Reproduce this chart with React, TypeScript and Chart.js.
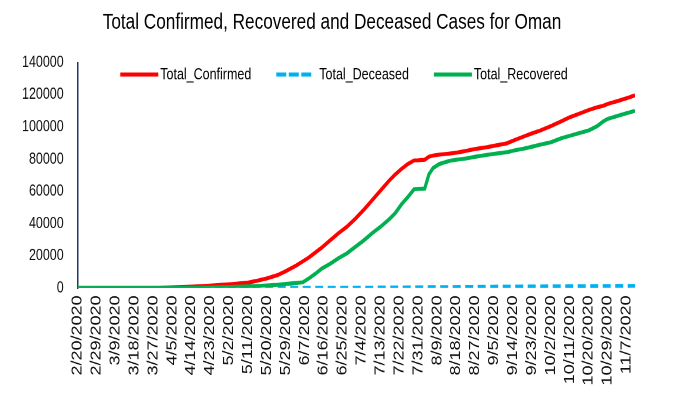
import React, { useEffect, useRef } from 'react';
import { Chart, registerables } from 'chart.js';

Chart.register(...registerables);

const chartTitle = 'Total Confirmed, Recovered and Deceased Cases for Oman';
const seriesNames = ['Total_Confirmed', 'Total_Deceased', 'Total_Recovered'];
const seriesColors = ['#FF0000', '#00B0F0', '#00B050'];
const originDate = '2/20/2020';

const tickLabels = [
  '2/20/2020', '2/29/2020', '3/9/2020', '3/18/2020', '3/27/2020', '4/5/2020', '4/14/2020', '4/23/2020',
  '5/2/2020', '5/11/2020', '5/20/2020', '5/29/2020', '6/7/2020', '6/16/2020', '6/25/2020', '7/4/2020',
  '7/13/2020', '7/22/2020', '7/31/2020', '8/9/2020', '8/18/2020', '8/27/2020', '9/5/2020', '9/14/2020',
  '9/23/2020', '10/2/2020', '10/11/2020', '10/20/2020', '10/29/2020', '11/7/2020',
];
const lastDate = '11/11/2020';

const sampleDates = [
  '2/20/2020', '3/27/2020', '4/5/2020', '4/14/2020', '4/23/2020', '5/2/2020', '5/11/2020', '5/16/2020',
  '5/20/2020', '5/25/2020', '5/29/2020', '6/3/2020', '6/6/2020', '6/9/2020', '6/12/2020', '6/15/2020',
  '6/19/2020', '6/23/2020', '6/27/2020', '7/1/2020', '7/5/2020', '7/9/2020', '7/13/2020', '7/17/2020',
  '7/20/2020', '7/23/2020', '7/26/2020', '7/29/2020', '7/31/2020', '8/3/2020', '8/5/2020', '8/7/2020',
  '8/10/2020', '8/15/2020', '8/19/2020', '8/23/2020', '8/27/2020', '9/1/2020', '9/5/2020', '9/11/2020',
  '9/15/2020', '9/19/2020', '9/23/2020', '9/27/2020', '10/2/2020', '10/7/2020', '10/11/2020', '10/15/2020',
  '10/20/2020', '10/24/2020', '10/27/2020', '10/29/2020', '11/3/2020', '11/7/2020', '11/11/2020',
];

const confirmedValues = [
  0, 150, 400, 800, 1500, 2300, 3300, 4700,
  6000, 8000, 10500, 14000, 16500, 19000, 22000, 25000,
  29500, 34000, 38000, 43000, 48500, 54500, 60500, 66500,
  70500, 74000, 77000, 79200, 79300, 79600, 81500, 82200,
  82800, 83500, 84200, 85200, 86300, 87300, 88300, 89800,
  92000, 94000, 96000, 97800, 100500, 103500, 106000, 108000,
  110500, 112200, 113200, 114300, 116200, 117800, 119700,
];

const recoveredValues = [
  0, 0, 0, 100, 300, 600, 1000, 1300,
  1600, 2000, 2500, 3100, 3500, 6000, 8800, 12000,
  15000, 18500, 21500, 25500, 29500, 34000, 38000, 42500,
  46500, 52000, 56500, 61400, 61500, 61700, 70500, 74500,
  77000, 79000, 79800, 80500, 81500, 82500, 83300, 84300,
  85500, 86500, 87700, 89000, 90500, 93000, 94500, 96000,
  97800, 100500, 103500, 105000, 107000, 108500, 110000,
];

const deceasedDates = [
  '2/20/2020', '3/31/2020', '5/2/2020', '5/29/2020', '6/19/2020', '7/4/2020', '7/22/2020',
  '8/3/2020', '8/23/2020', '9/7/2020', '9/23/2020', '10/11/2020', '10/27/2020', '11/11/2020',
];
const deceasedValues = [0, 1, 12, 45, 110, 210, 340, 450, 600, 750, 900, 1050, 1200, 1300];

function dayIndex(label: string): number {
  const [m, d, y] = label.split('/').map(Number);
  const [om, od, oy] = originDate.split('/').map(Number);
  return Math.round((Date.UTC(y, m - 1, d) - Date.UTC(oy, om - 1, od)) / 86400000);
}

function toPoints(dates: string[], values: number[]) {
  return dates.map((d, i) => ({ x: dayIndex(d), y: values[i] }));
}

const FONT = "'Liberation Sans', Arial, sans-serif";
const STRETCH = 1.25;
const W = 684;
const H = 395;

const titleAndLegend = {
  id: 'titleAndLegend',
  afterDraw(chart: any) {
    const ctx = chart.ctx;
    const area = chart.chartArea;
    ctx.save();
    // title
    ctx.font = `17.2px ${FONT}`;
    ctx.textBaseline = 'middle';
    ctx.textAlign = 'center';
    ctx.fillStyle = '#000';
    ctx.fillText(chartTitle, chart.width / 2 - 10, 18.5);

    // legend inside the plot area
    const y = area.top + 9.6;
    ctx.font = `12.5px ${FONT}`;
    ctx.textAlign = 'left';
    const items = seriesNames.map((name, i) => ({
      name,
      color: seriesColors[i],
      dashed: i === 1,
      sample: i === 1 ? 35 : 38,
      gap: i === 1 ? 8 : 2,
      textW: ctx.measureText(name).width,
    }));
    const spacing = 25;
    const total = items.reduce((s, it) => s + it.sample + it.gap + it.textW, 0) + spacing * (items.length - 1);
    let x = (chart.width - total) / 2 + 2;
    items.forEach((it) => {
      ctx.strokeStyle = it.color;
      ctx.lineWidth = 3.2;
      ctx.lineCap = 'butt';
      ctx.setLineDash(it.dashed ? [10, 2.5] : []);
      ctx.beginPath();
      ctx.moveTo(x, y);
      ctx.lineTo(x + it.sample, y);
      ctx.stroke();
      ctx.setLineDash([]);
      ctx.fillStyle = '#000';
      ctx.fillText(it.name, x + it.sample + it.gap, y + 0.5);
      x += it.sample + it.gap + it.textW + spacing;
    });
    ctx.restore();
  },
};

export default function App() {
  const canvasRef = useRef<HTMLCanvasElement | null>(null);

  useEffect(() => {
    document.body.style.margin = '0';
    const canvas = canvasRef.current;
    if (!canvas) return;
    const chart = new Chart(canvas, {
      type: 'line',
      data: {
        datasets: [
          {
            label: seriesNames[0],
            data: toPoints(sampleDates, confirmedValues),
            borderColor: seriesColors[0],
            backgroundColor: seriesColors[0],
            borderWidth: 3.2,
            pointRadius: 0,
            tension: 0,
            order: 3,
          },
          {
            label: seriesNames[1],
            data: toPoints(deceasedDates, deceasedValues),
            borderColor: seriesColors[1],
            backgroundColor: seriesColors[1],
            borderWidth: 3.2,
            borderDash: [8, 4.5],
            pointRadius: 0,
            tension: 0,
            order: 2,
          },
          {
            label: seriesNames[2],
            data: toPoints(sampleDates, recoveredValues),
            borderColor: seriesColors[2],
            backgroundColor: seriesColors[2],
            borderWidth: 3.2,
            pointRadius: 0,
            tension: 0,
            order: 1,
          },
        ],
      },
      options: {
        animation: false,
        responsive: true,
        maintainAspectRatio: false,
        devicePixelRatio: 2,
        layout: { padding: { left: 8, right: 49, top: 50, bottom: 1.6 } },
        plugins: {
          legend: { display: false },
          tooltip: { enabled: false },
          title: { display: false },
        },
        scales: {
          x: {
            type: 'linear',
            min: 0,
            max: dayIndex(lastDate),
            afterBuildTicks: (axis: any) => {
              axis.ticks = tickLabels.map((l) => ({ value: dayIndex(l) }));
            },
            afterFit: (axis: any) => {
              axis.paddingLeft = 0;
              axis.paddingRight = 0;
            },
            ticks: {
              autoSkip: false,
              minRotation: 90,
              maxRotation: 90,
              padding: 6,
              color: '#111',
              font: { family: FONT, size: 14.4 },
              callback: (_v: any, i: number) => tickLabels[i],
            },
            grid: { display: false, drawTicks: false },
            border: { display: false },
          },
          y: {
            min: 0,
            max: 140000,
            ticks: {
              stepSize: 20000,
              padding: 14,
              color: '#111',
              font: { family: FONT, size: 12.5 },
              callback: (v: any) => String(v),
            },
            grid: { display: false, drawTicks: false },
            border: { display: true, color: '#1F3864', width: 1.5 },
          },
        },
      },
      plugins: [titleAndLegend],
    });
    return () => chart.destroy();
  }, []);

  return (
    <div style={{ width: W, height: H, overflow: 'hidden', position: 'relative' }}>
      <div
        style={{
          width: W,
          height: H / STRETCH,
          transform: `scaleY(${STRETCH})`,
          transformOrigin: 'top left',
          position: 'relative',
        }}
      >
        <canvas ref={canvasRef} />
      </div>
    </div>
  );
}
